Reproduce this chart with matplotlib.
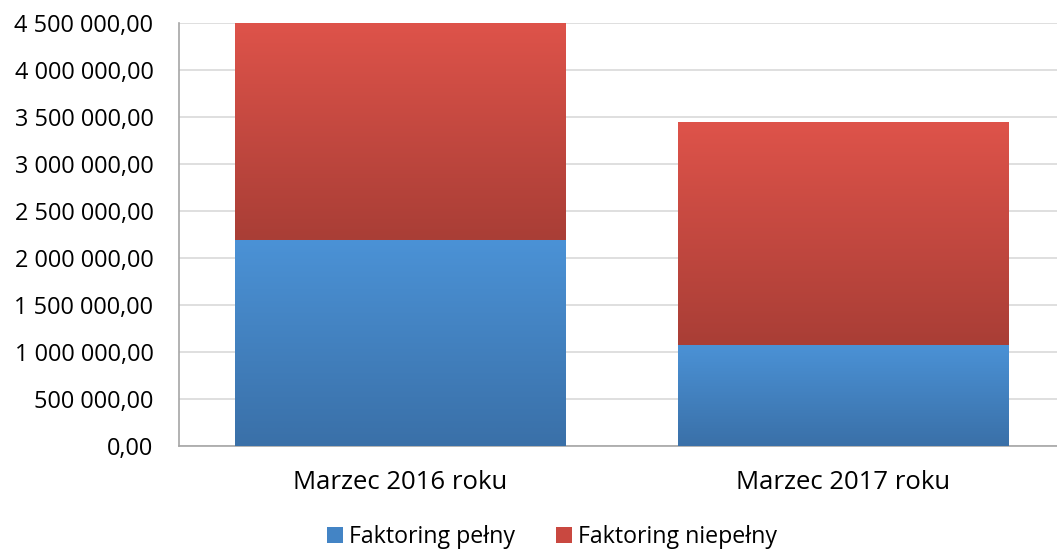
import numpy as np
import matplotlib.pyplot as plt
from matplotlib.colors import LinearSegmentedColormap
from matplotlib.patches import Patch
from matplotlib.ticker import FuncFormatter

categories = ["Marzec 2016 roku", "Marzec 2017 roku"]
pelny = [2190000, 1075000]
niepelny = [2310000, 2370000]
series_names = ["Faktoring pełny", "Faktoring niepełny"]

plt.rcParams["font.family"] = ["Open Sans", "DejaVu Sans"]

fig = plt.figure(figsize=(10.57, 5.52), dpi=100)
ax = fig.add_axes([178.5 / 1057, 1 - 446 / 552, 886 / 1057, 423 / 552])

x = np.arange(len(categories))
width = 0.745

blue_cmap = LinearSegmentedColormap.from_list("b", ["#3A70A8", "#4B92D6"])
red_cmap = LinearSegmentedColormap.from_list("r", ["#A93E36", "#DE534A"])
grad = np.linspace(0, 1, 256).reshape(-1, 1)


def gradient_bars(bars, cmap):
    for b in bars:
        x0, y0 = b.get_x(), b.get_y()
        w, h = b.get_width(), b.get_height()
        b.set_facecolor("none")
        ax.imshow(grad, extent=[x0, x0 + w, y0, y0 + h], origin="lower",
                  cmap=cmap, aspect="auto", zorder=3, interpolation="bicubic")


b1 = ax.bar(x, pelny, width, linewidth=0, zorder=3)
b2 = ax.bar(x, niepelny, width, bottom=pelny, linewidth=0, zorder=3)
gradient_bars(b1, blue_cmap)
gradient_bars(b2, red_cmap)

ax.set_xlim(-0.5, 1.5)
ax.set_ylim(0, 4500000)
ax.set_yticks(np.arange(0, 4500001, 500000))
ax.yaxis.set_major_formatter(FuncFormatter(
    lambda v, p: f"{v:,.2f}".replace(",", " ").replace(".", ",")))
ax.set_xticks(x)
ax.set_xticklabels(categories)
ax.tick_params(axis="y", length=0, labelsize=16.9, pad=18, colors="black")
ax.tick_params(axis="x", length=0, labelsize=18.5, pad=17, colors="black")
ax.grid(axis="y", color="#D9D9D9", linewidth=1.2, zorder=0)
ax.set_axisbelow(True)
for s in ["top", "right"]:
    ax.spines[s].set_visible(False)
for s in ["left", "bottom"]:
    ax.spines[s].set_color("#A6A6A6")
    ax.spines[s].set_linewidth(1.2)

handles = [Patch(facecolor="#4384C5"), Patch(facecolor="#C94840")]
fig.legend(handles, series_names, loc="center", ncol=2, frameon=False,
           bbox_to_anchor=(552 / 1057, 1 - 537 / 552), fontsize=16.7,
           handlelength=0.7, handleheight=0.7, handletextpad=0.25,
           columnspacing=1.75, borderpad=0.1)

fig.savefig("out.png", dpi=100)
